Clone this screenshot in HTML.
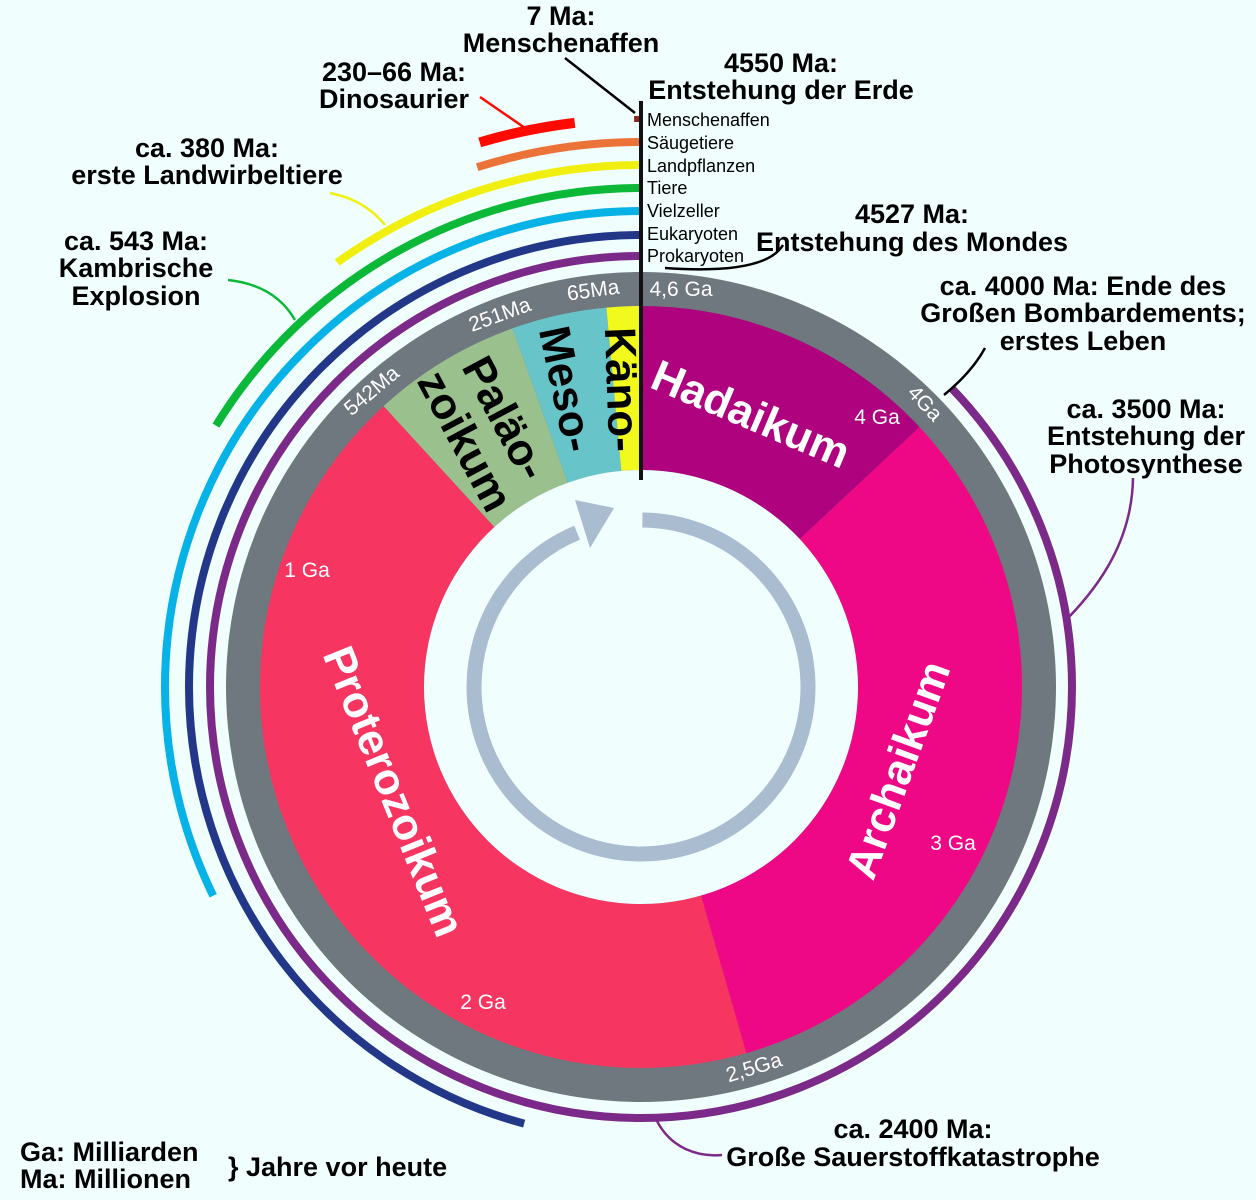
<!DOCTYPE html>
<html><head><meta charset="utf-8"><style>
html,body{margin:0;padding:0;background:#f0fffe}
svg{display:block}
text{font-family:"Liberation Sans",sans-serif}
.b{font-weight:bold;font-size:27px;fill:#000;text-anchor:middle}
.s{font-size:18px;fill:#000}
.w{font-size:21px;fill:#fff;text-anchor:middle}
.e{font-weight:bold;font-size:44px;text-anchor:middle}
</style></head><body>
<svg width="1256" height="1200" viewBox="0 0 1256 1200">
<rect width="1256" height="1200" fill="#f0fffe"/>
<g transform="translate(641,687) rotate(-90)" fill="none">
 <circle r="415" fill="#6f777f"/>
 <circle r="299" stroke="#ae027e" stroke-width="164" pathLength="360" stroke-dasharray="47 313"/>
 <circle r="299" stroke="#ee0886" stroke-width="164" pathLength="360" stroke-dasharray="0 47 117 196"/>
 <circle r="299" stroke="#f63661" stroke-width="164" pathLength="360" stroke-dasharray="0 164 153.6 42.4"/>
 <circle r="299" stroke="#99c08d" stroke-width="164" pathLength="360" stroke-dasharray="0 317.6 22.8 19.6"/>
 <circle r="299" stroke="#67c5ca" stroke-width="164" pathLength="360" stroke-dasharray="0 340.4 14.5 5.1"/>
 <circle r="299" stroke="#f2f91d" stroke-width="164" pathLength="360" stroke-dasharray="0 354.9 5.1 0"/>
 <circle r="217" fill="#f0fffe"/>
 <circle r="167" stroke="#a9bcd0" stroke-width="15" pathLength="360" stroke-dasharray="0 0.5 337 22.5"/>
 <circle r="431" stroke="#7b2a8a" stroke-width="8" pathLength="360" stroke-dasharray="0 46 314 0"/>
 <circle r="452" stroke="#233789" stroke-width="8" pathLength="360" stroke-dasharray="0 195 165 0"/>
 <circle r="476" stroke="#07b2e6" stroke-width="8" pathLength="360" stroke-dasharray="0 244 116 0"/>
 <circle r="499" stroke="#0bb838" stroke-width="8" pathLength="360" stroke-dasharray="0 301.6 58.4 0"/>
 <circle r="522" stroke="#f0ef10" stroke-width="8" pathLength="360" stroke-dasharray="0 324.4 35.6 0"/>
 <circle r="545" stroke="#ec7338" stroke-width="8" pathLength="360" stroke-dasharray="0 342.5 17.5 0"/>
 <circle r="568" stroke="#ff0a00" stroke-width="10" pathLength="360" stroke-dasharray="0 343.5 9.8 6.7"/>
 <circle r="568" stroke="#8b2a1a" stroke-width="6" pathLength="360" stroke-dasharray="0 359.3 0.7 0"/>
</g>
<polygon points="614,508 575,500 590,548" fill="#a9bcd0"/>
<line x1="641" y1="101" x2="641" y2="480" stroke="#111" stroke-width="4"/>
<line x1="565" y1="58" x2="635" y2="113" stroke="#000" stroke-width="2.5"/>
<line x1="480" y1="97" x2="525" y2="128" stroke="#ff0a00" stroke-width="2.5"/>
<path d="M330,193 Q365,200 385,225" stroke="#f0ef10" stroke-width="2.5" fill="none"/>
<path d="M228,280 Q275,285 295,320" stroke="#0bb838" stroke-width="2.5" fill="none"/>
<path d="M665,268 Q765,275 783,245" stroke="#000" stroke-width="2.5" fill="none"/>
<path d="M944,395 Q972,372 985,348" stroke="#000" stroke-width="2.5" fill="none"/>
<path d="M1133,478 C1132,540 1100,585 1068,618" stroke="#7b2a8a" stroke-width="2.5" fill="none"/>
<path d="M655,1117 C670,1150 700,1157 722,1155" stroke="#7b2a8a" stroke-width="2.5" fill="none"/>
<text x="681" y="296" class="w">4,6 Ga</text>
<text class="w" transform="translate(920,408) rotate(47)">4Ga</text>
<text class="w" transform="translate(756,1074) rotate(-17)">2,5Ga</text>
<text class="w" transform="translate(376,396) rotate(-40)">542Ma</text>
<text class="w" transform="translate(502,321) rotate(-20)">251Ma</text>
<text class="w" transform="translate(594,297) rotate(-8)">65Ma</text>
<text x="877" y="424" class="w">4 Ga</text>
<text x="307" y="577" class="w">1 Ga</text>
<text x="483" y="1009" class="w">2 Ga</text>
<text x="953" y="850" class="w">3 Ga</text>
<text class="e" fill="#fff" transform="translate(745,428) rotate(23)">Hadaikum</text>
<text class="e" fill="#fff" transform="translate(912,775) rotate(-70)">Archaikum</text>
<text class="e" fill="#fff" transform="translate(380,797) rotate(68)">Proterozoikum</text>
<text class="e" fill="#000" font-size="40" transform="translate(492,425) rotate(62)">Paläo-</text>
<text class="e" fill="#000" font-size="40" transform="translate(452,448) rotate(62)">zoikum</text>
<text class="e" fill="#000" font-size="40" transform="translate(552,392) rotate(78)">Meso-</text>
<text class="e" fill="#000" font-size="40" transform="translate(607,390) rotate(88)">Käno-</text>
<text x="647" y="126" class="s">Menschenaffen</text>
<text x="647" y="149" class="s">Säugetiere</text>
<text x="647" y="172" class="s">Landpflanzen</text>
<text x="647" y="194" class="s">Tiere</text>
<text x="647" y="217" class="s">Vielzeller</text>
<text x="647" y="240" class="s">Eukaryoten</text>
<text x="647" y="262" class="s">Prokaryoten</text>
<text x="561" y="25" class="b">7 Ma:</text>
<text x="561" y="52" class="b">Menschenaffen</text>
<text x="781" y="72" class="b">4550 Ma:</text>
<text x="781" y="99" class="b">Entstehung der Erde</text>
<text x="394" y="81" class="b">230–66 Ma:</text>
<text x="394" y="108" class="b">Dinosaurier</text>
<text x="207" y="157" class="b">ca. 380 Ma:</text>
<text x="207" y="184" class="b">erste Landwirbeltiere</text>
<text x="136" y="250" class="b">ca. 543 Ma:</text>
<text x="136" y="277" class="b">Kambrische</text>
<text x="136" y="305" class="b">Explosion</text>
<text x="912" y="223" class="b">4527 Ma:</text>
<text x="912" y="251" class="b">Entstehung des Mondes</text>
<text x="1083" y="295" class="b">ca. 4000 Ma: Ende des</text>
<text x="1083" y="322" class="b">Großen Bombardements;</text>
<text x="1083" y="350" class="b">erstes Leben</text>
<text x="1146" y="418" class="b">ca. 3500 Ma:</text>
<text x="1146" y="445" class="b">Entstehung der</text>
<text x="1146" y="473" class="b">Photosynthese</text>
<text x="913" y="1138" class="b">ca. 2400 Ma:</text>
<text x="913" y="1166" class="b">Große Sauerstoffkatastrophe</text>
<text x="20" y="1161" class="b" style="text-anchor:start">Ga: Milliarden</text>
<text x="20" y="1188" class="b" style="text-anchor:start">Ma: Millionen</text>
<text x="228" y="1176" class="b" style="text-anchor:start">} Jahre vor heute</text>
</svg>
</body></html>
